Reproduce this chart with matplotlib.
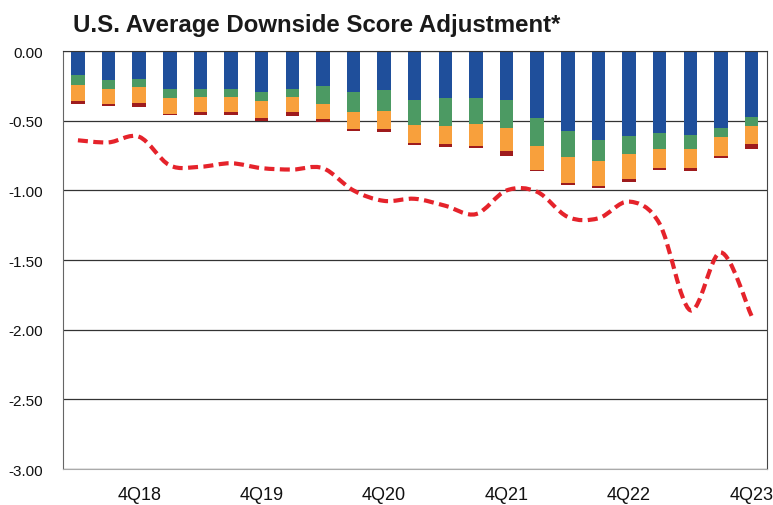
import matplotlib
matplotlib.use("Agg")
import matplotlib.pyplot as plt
import numpy as np
from matplotlib.path import Path
from matplotlib.patches import PathPatch

plt.rcParams['font.family'] = ['Liberation Sans', 'DejaVu Sans']

quarters = ['2Q18', '3Q18', '4Q18',
            '1Q19', '2Q19', '3Q19', '4Q19',
            '1Q20', '2Q20', '3Q20', '4Q20',
            '1Q21', '2Q21', '3Q21', '4Q21',
            '1Q22', '2Q22', '3Q22', '4Q22',
            '1Q23', '2Q23', '3Q23', '4Q23']

# stacked components of the adjustment (all negative)
comp_blue = [-0.17, -0.21, -0.20, -0.27, -0.27, -0.27, -0.29, -0.27, -0.25, -0.29, -0.28, -0.35,
             -0.34, -0.34, -0.35, -0.48, -0.57, -0.64, -0.61, -0.59, -0.60, -0.55, -0.47]
comp_green = [-0.07, -0.06, -0.06, -0.07, -0.06, -0.06, -0.07, -0.06, -0.13, -0.15, -0.15, -0.18,
              -0.20, -0.18, -0.20, -0.20, -0.19, -0.15, -0.13, -0.11, -0.10, -0.07, -0.07]
comp_orange = [-0.12, -0.11, -0.11, -0.11, -0.11, -0.11, -0.12, -0.11, -0.11, -0.12, -0.13, -0.13,
               -0.13, -0.16, -0.17, -0.17, -0.19, -0.18, -0.18, -0.14, -0.14, -0.13, -0.13]
comp_red = [-0.023, -0.017, -0.029, -0.012, -0.019, -0.017, -0.024, -0.029, -0.017, -0.014, -0.024, -0.013,
            -0.016, -0.016, -0.031, -0.012, -0.014, -0.014, -0.019, -0.015, -0.017, -0.015, -0.033]

# average downside score adjustment (dashed line)
avg_adj = [-0.64, -0.655, -0.615, -0.82, -0.83, -0.805, -0.84, -0.85, -0.84, -1.00, -1.075, -1.06,
           -1.11, -1.17, -1.00, -1.01, -1.19, -1.20, -1.08, -1.24, -1.86, -1.445, -1.90]

label_every = 4
label_start = 2


def smooth_path(xs, ys):
    # Catmull-Rom through the points, written as cubic Bezier segments
    pts = np.column_stack([xs, ys]).astype(float)
    ext = np.vstack([pts[0], pts, pts[-1]])
    verts = [pts[0]]
    codes = [Path.MOVETO]
    for i in range(len(pts) - 1):
        p0, p1, p2, p3 = ext[i], ext[i + 1], ext[i + 2], ext[i + 3]
        verts += [p1 + (p2 - p0) / 6, p2 - (p3 - p1) / 6, p2]
        codes += [Path.CURVE4] * 3
    return Path(verts, codes)


fig = plt.figure(figsize=(7.73, 5.06), dpi=100)
ax = fig.add_axes([0.081, 0.071, 0.911, 0.826])

x = np.arange(len(quarters))
width = 0.44
bottom = np.zeros(len(quarters))
for vals, col in [(comp_blue, '#1f4f9b'), (comp_green, '#4c9a63'),
                  (comp_orange, '#f8a03c'), (comp_red, '#9e1b1d')]:
    ax.bar(x, vals, width, bottom=bottom, color=col, zorder=2)
    bottom += np.array(vals)

line = PathPatch(smooth_path(x, avg_adj), fill=False, edgecolor='#e5232b', lw=3.0,
                 linestyle=(0, (2.4, 1.3)), capstyle='butt', zorder=3)
ax.add_patch(line)

ax.set_xlim(-0.5, len(quarters) - 0.5)
ax.set_ylim(-3.0, 0.0)
yt = np.arange(-3.0, 0.01, 0.5)
ax.set_yticks(yt)
ax.set_yticklabels([f'{v:.2f}' for v in yt], fontsize=11)
xt = x[label_start::label_every]
ax.set_xticks(xt)
ax.set_xticklabels([quarters[i] for i in xt], fontsize=13)
ax.tick_params(axis='both', length=0, colors='#111')
ax.tick_params(axis='y', pad=14)
ax.tick_params(axis='x', pad=12)

ax.yaxis.grid(True, color='#333333', lw=0.9)
ax.set_axisbelow(True)
ax.spines['top'].set_color('#333333')
ax.spines['left'].set_color('#666666')
ax.spines['right'].set_color('#444444')
ax.spines['bottom'].set_color('#aaaaaa')

fig.text(0.094, 0.936, 'U.S. Average Downside Score Adjustment*', fontsize=17.3,
         fontweight='bold', color='#1a1a1a', ha='left', va='baseline')

fig.savefig('out.png', dpi=100)
